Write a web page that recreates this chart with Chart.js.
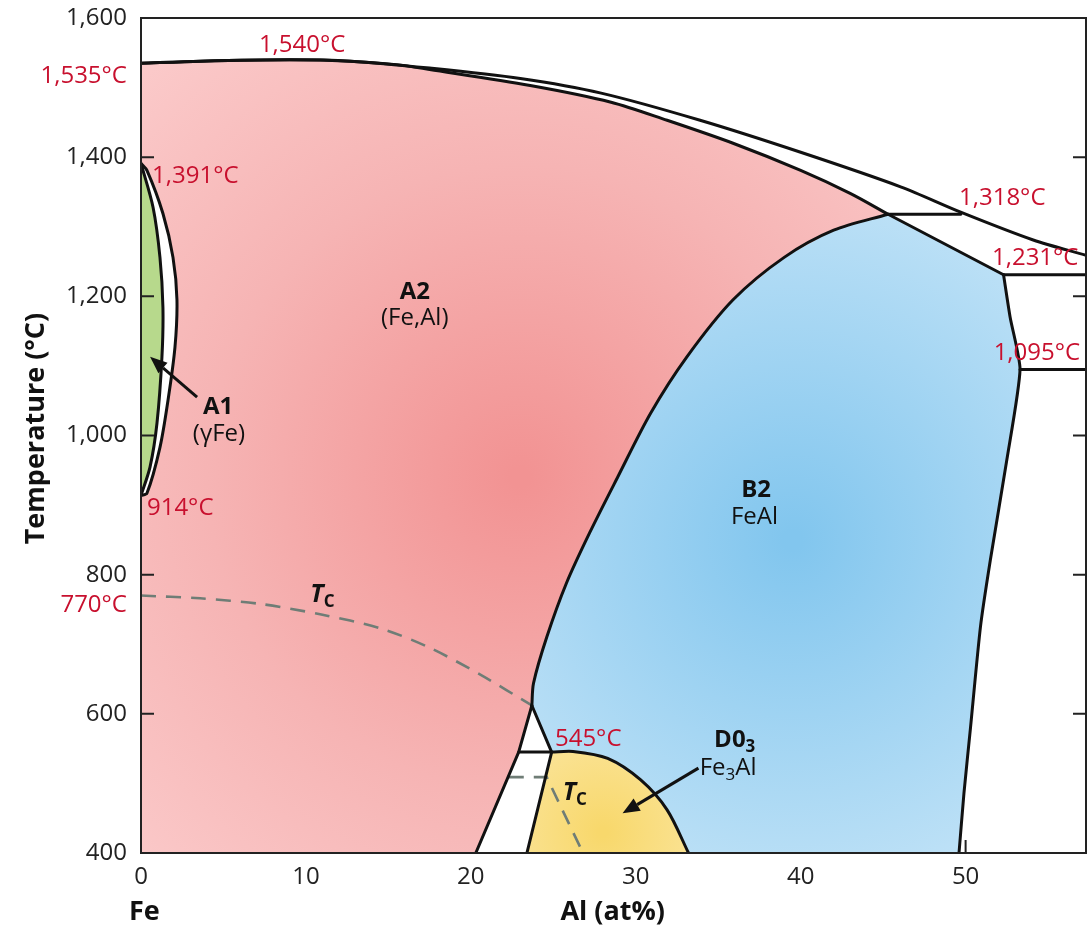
<!DOCTYPE html>
<html>
<head>
<meta charset="utf-8">
<title>Fe–Al phase diagram</title>
<script src="https://cdn.jsdelivr.net/npm/chart.js@4.4.1/dist/chart.umd.min.js"></script>
<style>
  html, body { margin: 0; padding: 0; background: #fff; }
  canvas { display: block; }
</style>
</head>
<body>
<canvas id="phaseChart" width="1088" height="931"></canvas>
<script>
// Axes: composition in at% Al, temperature in °C
const xTicks = [0, 10, 20, 30, 40, 50];
const yTicks = [400, 600, 800, 1000, 1200, 1400, 1600];
const xMax = 57.3;

// Phase boundaries as [at% Al, °C] pairs
const liquidus = [[0, 1535], [3.6, 1538], [9, 1540], [12.7, 1538], [17.5, 1528], [23, 1513],
  [27.9, 1492], [33.9, 1453], [40, 1407], [46.1, 1357], [49.7, 1321], [54.1, 1281], [57.3, 1259]];
const solidusA2 = [[0, 1535], [3.6, 1538], [9, 1540], [12.7, 1538], [15.5, 1533], [17.5, 1526],
  [23.6, 1503], [28.5, 1479], [31.9, 1453], [35.9, 1420], [40, 1381], [43, 1348], [45.3, 1318]];
const b2Top = [[45.3, 1318], [52.3, 1231]];
const b2Right = [[52.3, 1231], [52.7, 1170], [53.3, 1095], [52.5, 965], [51.5, 821], [50.9, 725],
  [50.3, 581], [49.9, 486], [49.6, 400]];
const a2b2 = [[23.7, 612], [23.8, 644], [24.6, 710], [25.8, 788], [27.2, 860], [28.9, 940],
  [30.9, 1032], [33.1, 1113], [35.9, 1195], [39.0, 1256], [42.0, 1295], [45.3, 1318]];
const twoPhaseLeft = [[23.7, 612], [22.9, 545], [20.3, 400]];
const twoPhaseRight = [[23.7, 612], [24.9, 545], [23.4, 400]];
const line545 = [[22.9, 545], [24.9, 545]];
const d03Dome = [[24.9, 545], [26.2, 546], [28.3, 536], [30.3, 505], [31.9, 462], [33.2, 400]];
const line1318 = [[45.3, 1318], [49.7, 1318]];
const line1231 = [[52.3, 1231], [57.3, 1231]];
const line1095 = [[53.3, 1095], [57.3, 1095]];
const gammaInner = [[0, 1391], [0.73, 1328], [1.15, 1256], [1.33, 1184], [1.27, 1113],
  [0.97, 1018], [0.55, 955], [0, 914]];
const gammaOuter = [[0, 1391], [0.36, 1381], [1.33, 1319], [1.94, 1256], [2.18, 1195],
  [2.06, 1127], [1.64, 1051], [1.15, 983], [0.36, 917], [0, 914]];

// Curie temperature (dashed)
const curieA2 = [[0, 770], [3.58, 766], [7.22, 758], [10.86, 743], [14.5, 723], [17.5, 695],
  [20.6, 656], [23.7, 612]];
const curieD03 = [[22.3, 509], [24.6, 509], [26.8, 400]];

// Text annotations, positioned in data units
const tempNotes = [
  { text: '1,540°C', x: 9.77, y: 1561, align: 'center' },
  { text: '1,535°C', x: -0.85, y: 1516, align: 'right' },
  { text: '1,391°C', x: 0.67, y: 1373, align: 'left' },
  { text: '1,318°C', x: 49.6, y: 1341, align: 'left' },
  { text: '1,231°C', x: 51.6, y: 1255, align: 'left' },
  { text: '1,095°C', x: 51.7, y: 1118, align: 'left' },
  { text: '914°C', x: 0.36, y: 896, align: 'left' },
  { text: '770°C', x: -0.85, y: 756, align: 'right' },
  { text: '545°C', x: 25.1, y: 564, align: 'left' }
];
const phaseNames = [
  { runs: [['A2', 'b']], x: 16.6, y: 1206 },
  { runs: [['(Fe,Al)', 'r']], x: 16.6, y: 1169 },
  { runs: [['B2', 'b']], x: 37.3, y: 922 },
  { runs: [['FeAl', 'r']], x: 37.2, y: 883 },
  { runs: [['A1', 'b']], x: 4.67, y: 1041 },
  { runs: [['(γFe)', 'r']], x: 4.73, y: 1002 },
  { runs: [['D0', 'b'], ['3', 'bsub']], x: 36.0, y: 562 },
  { runs: [['Fe', 'r'], ['3', 'sub'], ['Al', 'r']], x: 35.6, y: 522 },
  { runs: [['T', 'bi'], ['C', 'bsub']], x: 11.0, y: 771 },
  { runs: [['T', 'bi'], ['C', 'bsub']], x: 26.3, y: 486 }
];
const arrows = [
  { from: [3.4, 1055], to: [0.55, 1113] },
  { from: [33.8, 522], to: [29.2, 457] }
];

const FONT = '"Open Sans", "Noto Sans", sans-serif';
const RED = '#c8102e';
const fonts = {
  r: `24px ${FONT}`,
  b: `bold 24px ${FONT}`,
  bi: `italic bold 25px ${FONT}`,
  sub: `17px ${FONT}`,
  bsub: `bold 17px ${FONT}`
};

const toPts = arr => arr.map(([x, y]) => ({ x, y }));
const rev = arr => arr.slice().reverse();

// Closed outlines for each single-phase field
const greenRegion = gammaInner;
const a2Region = [[0, 1535], ...gammaOuter, [0, 400], ...rev(twoPhaseLeft), ...a2b2, ...rev(solidusA2)];
const b2Region = [...a2b2, ...b2Top, ...b2Right, ...rev(d03Dome)];
const d03Region = [...d03Dome, [23.4, 400]];

function regionFill(chart, key) {
  const { ctx, chartArea, scales } = chart;
  if (!chartArea) return 'rgba(0,0,0,0)';
  const px = v => scales.x.getPixelForValue(v);
  const py = v => scales.y.getPixelForValue(v);
  let g;
  if (key === 'a2') {
    g = ctx.createRadialGradient(px(23), py(940), 10, px(23), py(940), 560);
    g.addColorStop(0, '#f29393');
    g.addColorStop(0.55, '#f6b4b4');
    g.addColorStop(1, '#fbcaca');
  } else if (key === 'b2') {
    g = ctx.createRadialGradient(px(39.5), py(850), 10, px(39.5), py(850), 380);
    g.addColorStop(0, '#82c6ee');
    g.addColorStop(1, '#c2e3f7');
  } else if (key === 'd03') {
    g = ctx.createRadialGradient(px(28), py(430), 5, px(28), py(430), 130);
    g.addColorStop(0, '#f8d86c');
    g.addColorStop(1, '#fbe7a4');
  } else {
    return '#b7d98c';
  }
  return g;
}

const region = (data, key) => ({
  data: toPts(data), showLine: true, pointRadius: 0, borderWidth: 0,
  borderColor: 'rgba(0,0,0,0)', fill: 'shape', tension: 0, order: 2,
  backgroundColor: c => regionFill(c.chart, key)
});
const boundary = (data, tension) => ({
  data: toPts(data), showLine: true, pointRadius: 0, borderWidth: 3,
  borderColor: '#111', fill: false, tension: tension, order: 0,
  borderJoinStyle: 'round', borderCapStyle: 'round'
});
const curie = data => ({
  data: toPts(data), showLine: true, pointRadius: 0, borderWidth: 2.6,
  borderColor: '#6f7d76', borderDash: [15, 10], fill: false, tension: 0.3, order: 1
});

function drawRuns(ctx, runs, cx, cy) {
  const parts = runs.map(([t, k]) => {
    ctx.font = fonts[k];
    return { t, k, w: ctx.measureText(t).width };
  });
  let x = cx - parts.reduce((s, p) => s + p.w, 0) / 2;
  parts.forEach(p => {
    ctx.font = fonts[p.k];
    const dy = (p.k === 'sub' || p.k === 'bsub') ? 7 : 0;
    ctx.fillText(p.t, x, cy + dy);
    x += p.w;
  });
}

const decor = {
  id: 'decor',
  beforeDatasetsDraw(chart) {
    const { ctx, chartArea: a, scales: { x } } = chart;
    ctx.save();
    ctx.strokeStyle = '#222';
    ctx.lineWidth = 2;
    xTicks.forEach(v => {
      const p = x.getPixelForValue(v);
      ctx.beginPath(); ctx.moveTo(p, a.bottom); ctx.lineTo(p, a.bottom - 13); ctx.stroke();
    });
    ctx.restore();
  },
  afterDatasetsDraw(chart) {
    const { ctx, chartArea: a, scales: { x, y } } = chart;
    ctx.save();
    // frame and inward temperature ticks
    ctx.strokeStyle = '#222';
    ctx.lineWidth = 2;
    ctx.strokeRect(a.left, a.top, a.right - a.left, a.bottom - a.top);
    yTicks.forEach(v => {
      const p = y.getPixelForValue(v);
      ctx.beginPath();
      ctx.moveTo(a.left, p); ctx.lineTo(a.left + 13, p);
      ctx.moveTo(a.right, p); ctx.lineTo(a.right - 13, p);
      ctx.stroke();
    });

    // arrows
    ctx.strokeStyle = '#111';
    ctx.fillStyle = '#111';
    ctx.lineWidth = 3;
    arrows.forEach(ar => {
      const x0 = x.getPixelForValue(ar.from[0]), y0 = y.getPixelForValue(ar.from[1]);
      const x1 = x.getPixelForValue(ar.to[0]), y1 = y.getPixelForValue(ar.to[1]);
      const ang = Math.atan2(y1 - y0, x1 - x0);
      const hl = 17, hw = 7;
      const bx = x1 - hl * Math.cos(ang), by = y1 - hl * Math.sin(ang);
      ctx.beginPath(); ctx.moveTo(x0, y0); ctx.lineTo(bx, by); ctx.stroke();
      ctx.beginPath();
      ctx.moveTo(x1, y1);
      ctx.lineTo(bx + hw * Math.sin(ang), by - hw * Math.cos(ang));
      ctx.lineTo(bx - hw * Math.sin(ang), by + hw * Math.cos(ang));
      ctx.closePath(); ctx.fill();
    });

    // temperature callouts
    ctx.textBaseline = 'middle';
    ctx.fillStyle = RED;
    ctx.font = fonts.r;
    tempNotes.forEach(n => {
      ctx.textAlign = n.align;
      ctx.fillText(n.text, x.getPixelForValue(n.x), y.getPixelForValue(n.y));
    });

    // phase names
    ctx.fillStyle = '#111';
    ctx.textAlign = 'left';
    phaseNames.forEach(n => drawRuns(ctx, n.runs, x.getPixelForValue(n.x), y.getPixelForValue(n.y)));

    // axis titles
    ctx.font = `bold 27px ${FONT}`;
    ctx.textAlign = 'center';
    ctx.fillText('Fe', x.getPixelForValue(0.2), a.bottom + 59);
    ctx.fillText('Al (at%)', x.getPixelForValue(28.6), a.bottom + 59);
    ctx.translate(36, y.getPixelForValue(1010));
    ctx.rotate(-Math.PI / 2);
    ctx.fillText('Temperature (°C)', 0, 0);
    ctx.restore();
  }
};

new Chart(document.getElementById('phaseChart'), {
  type: 'scatter',
  data: {
    datasets: [
      region(greenRegion, 'a1'),
      region(a2Region, 'a2'),
      region(b2Region, 'b2'),
      region(d03Region, 'd03'),
      curie(curieA2),
      { ...curie(curieD03), tension: 0 },
      boundary(liquidus, 0.3),
      boundary(solidusA2, 0.3),
      boundary(b2Top, 0),
      boundary(b2Right, 0.2),
      boundary(a2b2, 0.3),
      boundary(twoPhaseLeft, 0),
      boundary(twoPhaseRight, 0),
      boundary(line545, 0),
      boundary(d03Dome, 0.3),
      boundary(line1318, 0),
      boundary(line1231, 0),
      boundary(line1095, 0),
      boundary(gammaInner, 0.3),
      boundary(gammaOuter, 0.3)
    ]
  },
  options: {
    responsive: false,
    animation: false,
    layout: { padding: { top: 18, right: 2, left: 0, bottom: 0 } },
    plugins: { legend: { display: false }, tooltip: { enabled: false } },
    scales: {
      x: {
        type: 'linear', min: 0, max: xMax,
        afterBuildTicks: s => { s.ticks = xTicks.map(v => ({ value: v })); },
        afterFit: s => { s.height = 78; s.paddingLeft = 0; s.paddingRight = 0; },
        grid: { display: false, drawTicks: false },
        border: { display: false },
        ticks: { font: { family: FONT, size: 24 }, color: '#222', padding: 10, maxRotation: 0 }
      },
      y: {
        type: 'linear', min: 400, max: 1600,
        afterBuildTicks: s => { s.ticks = yTicks.map(v => ({ value: v })); },
        afterFit: s => { s.width = 141; s.paddingTop = 0; s.paddingBottom = 0; },
        grid: { display: false, drawTicks: false },
        border: { display: false },
        ticks: {
          font: { family: FONT, size: 24 }, color: '#222', padding: 14,
          callback: v => v.toLocaleString('en-US')
        }
      }
    }
  },
  plugins: [decor]
});
</script>
</body>
</html>
